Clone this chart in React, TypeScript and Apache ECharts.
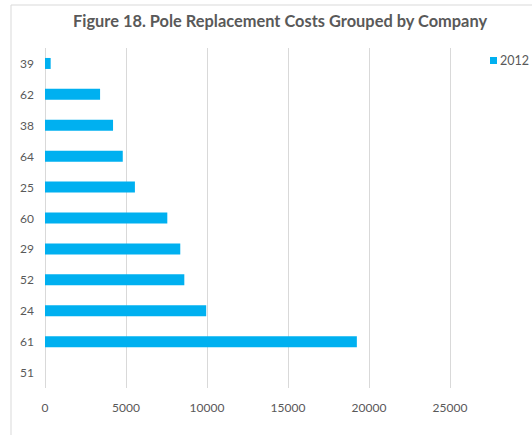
import React, { useEffect, useRef } from "react";
import * as echarts from "echarts";

const categories = ["39", "62", "38", "64", "25", "60", "29", "52", "24", "61", "51"];
const values2012 = [350, 3400, 4200, 4800, 5550, 7550, 8350, 8600, 9950, 19250, 0];
const seriesName = "2012";
const titleText = "Figure 18. Pole Replacement Costs Grouped by Company";

export default function App() {
  const ref = useRef<HTMLDivElement>(null);
  useEffect(() => {
    if (!ref.current) return;
    const chart = echarts.init(ref.current, null, { renderer: "svg" });
    const font = "Lato, 'Open Sans', sans-serif";
    chart.setOption({
      animation: false,
      backgroundColor: "#ffffff",
      textStyle: { fontFamily: font },
      title: {
        text: titleText,
        left: 68,
        top: 7,
        textStyle: { fontFamily: font, fontSize: 16.4, fontWeight: "bold", color: "#595959" },
      },
      legend: {
        data: [seriesName],
        left: 485,
        top: 49,
        icon: "rect",
        itemWidth: 7,
        itemHeight: 7,
        textStyle: { fontFamily: font, fontSize: 12.5, color: "#595959", padding: [0, 0, 0, -2] },
      },
      graphic: [
        {
          type: "rect",
          shape: { x: 11, y: 5, width: 600, height: 500 },
          style: { fill: "none", stroke: "#d9d9d9", lineWidth: 1 },
          silent: true,
        },
      ],
      grid: { left: 45, right: 82, top: 48, bottom: 47, containLabel: false },
      xAxis: {
        type: "value",
        min: 0,
        max: 25000,
        interval: 5000,
        axisLine: { show: false },
        axisTick: { show: false },
        splitLine: { show: true, lineStyle: { color: "#d9d9d9", width: 1 } },
        axisLabel: {
          color: "#595959",
          fontSize: 12,
          margin: 13,
          fontFamily: font,
          formatter: (v: number) => String(v),
        },
      },
      yAxis: {
        type: "category",
        data: categories,
        inverse: true,
        axisLine: { show: false },
        axisTick: { show: false },
        axisLabel: { color: "#595959", fontSize: 12, margin: 11, fontFamily: font },
      },
      series: [
        {
          name: seriesName,
          type: "bar",
          data: values2012,
          barWidth: 11,
          itemStyle: { color: "#00B0F0" },
        },
      ],
    });
    return () => chart.dispose();
  }, []);
  return (
    <div
      ref={ref}
      style={{ position: "fixed", left: 0, top: 0, width: 532, height: 435 }}
    />
  );
}
